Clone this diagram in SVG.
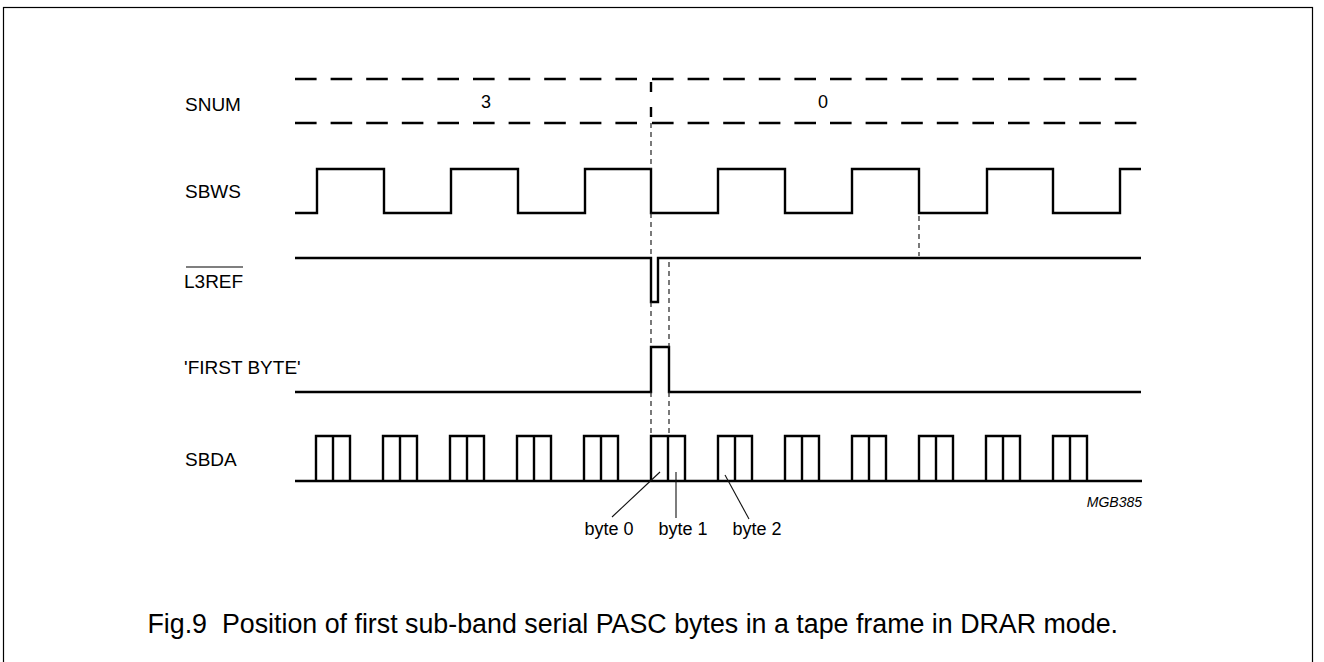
<svg xmlns="http://www.w3.org/2000/svg" width="1324" height="662" viewBox="0 0 1324 662">
<style>
.sig{fill:none;stroke:#000;stroke-width:2.4;stroke-linejoin:miter;stroke-linecap:butt}
.bus{fill:none;stroke:#000;stroke-width:2.6;stroke-dasharray:21.6 14}
.guide{fill:none;stroke:#222;stroke-width:1.2;stroke-dasharray:5 4}
.ptr{fill:none;stroke:#111;stroke-width:1.1}
.lbl{font-family:"Liberation Sans",Arial,sans-serif;font-size:19px;fill:#000}
.num{font-family:"Liberation Sans",Arial,sans-serif;font-size:18px;fill:#000;text-anchor:middle}
.cap{font-family:"Liberation Sans",Arial,sans-serif;font-size:26.8px;fill:#000;text-anchor:end}
</style>
<rect x="3.5" y="7.5" width="1309" height="660" fill="#fff" stroke="#000" stroke-width="1.2"/>

<g id="snum">
<text class="lbl" x="185" y="111">SNUM</text>
<path class="bus" d="M295,79 H651"/>
<path class="bus" d="M295,123 H651"/>
<path class="bus" d="M652,79 H1138"/>
<path class="bus" d="M652,123 H1138"/>
<path d="M651,82 V92 M651,107 V117" stroke="#000" stroke-width="2.4" fill="none"/>
<text class="num" x="486" y="108">3</text>
<text class="num" x="823" y="108">0</text>
</g>

<g id="sbws">
<text class="lbl" x="185" y="198">SBWS</text>
<path class="sig" d="M295,213 H317 V169 H384 V213 H451 V169 H518 V213 H585 V169 H651 V213 H718 V169 H785 V213 H852 V169 H919 V213 H987 V169 H1053 V213 H1120 V169 H1141"/>
</g>

<g id="l3ref">
<text class="lbl" x="184" y="288">L3REF</text>
<line x1="186" y1="267" x2="243" y2="267" stroke="#000" stroke-width="1.2"/>
<path class="sig" d="M295,258 H651 V302 H658 V258 H1141"/>
</g>

<g id="firstbyte">
<text class="lbl" x="184" y="374">'FIRST BYTE'</text>
<path class="sig" d="M295,392 H651 V347 H669 V392 H1141"/>
</g>

<g id="sbda">
<text class="lbl" x="185" y="466">SBDA</text>
<path class="sig" d="M295,481 H1142
M316,481 V436 H350 V481 M333,436 V481
M383,481 V436 H417 V481 M400,436 V481
M450,481 V436 H484 V481 M467,436 V481
M517,481 V436 H551 V481 M534,436 V481
M584,481 V436 H618 V481 M601,436 V481
M651,481 V436 H685 V481 M668,436 V481
M718,481 V436 H752 V481 M735,436 V481
M785,481 V436 H819 V481 M802,436 V481
M852,481 V436 H886 V481 M869,436 V481
M919,481 V436 H953 V481 M936,436 V481
M986,481 V436 H1020 V481 M1003,436 V481
M1053,481 V436 H1087 V481 M1070,436 V481"/>
</g>

<g id="connectors">
<path class="guide" d="M651,123 V169 M651,213 V258 M651,302 V347 M651,392 V436"/>
<path class="guide" d="M669,262 V347 M669,392 V436"/>
<path class="guide" d="M919,216 V256"/>
<line class="ptr" x1="660" y1="472" x2="612" y2="517"/>
<line class="ptr" x1="676" y1="472" x2="676" y2="518" stroke="#555" stroke-width="1.6"/>
<line class="ptr" x1="725" y1="475" x2="749" y2="519"/>
</g>

<g id="byte-labels">
<text class="num" x="609" y="535">byte 0</text>
<text class="num" x="683" y="535">byte 1</text>
<text class="num" x="757" y="535">byte 2</text>
</g>

<text x="1142" y="507" font-family="'Liberation Sans',Arial,sans-serif" font-size="14" font-style="italic" text-anchor="end">MGB385</text>

<text class="cap" x="1118" y="633" xml:space="preserve">Fig.9  Position of first sub-band serial PASC bytes in a tape frame in DRAR mode.</text>
</svg>
